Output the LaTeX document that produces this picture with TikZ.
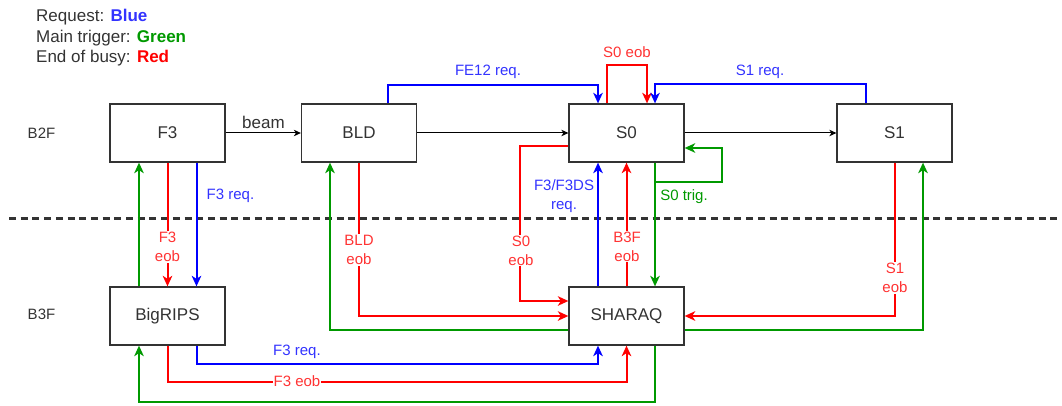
\documentclass[tikz,border=0pt]{standalone}
\usepackage{fontspec}
\setmainfont{Liberation Sans}
\usetikzlibrary{arrows.meta}
\definecolor{lblue}{HTML}{0000FF}
\definecolor{tblue}{HTML}{3333FF}
\definecolor{lred}{HTML}{FF0000}
\definecolor{tred}{HTML}{FF3333}
\definecolor{lgreen}{HTML}{009900}
\definecolor{dgray}{HTML}{333333}
\begin{document}
\begin{tikzpicture}[x=1pt,y=-1pt,
  box/.style={draw=dgray, line width=1.3pt, fill=white, minimum width=115pt, minimum height=58pt, inner sep=0pt, text=dgray, font=\fontsize{17}{20}\selectfont},
  conn/.style={line width=2pt, -{Stealth[length=10.5pt,width=9.5pt,inset=3pt]}},
  bconn/.style={conn, draw=lblue},
  rconn/.style={conn, draw=lred},
  gconn/.style={conn, draw=lgreen},
  blk/.style={line width=1pt, draw=black, -{Stealth[length=7pt,width=6.5pt,inset=2pt]}},
  lbl/.style={font=\fontsize{15}{19}\selectfont, align=center, inner sep=1pt},
  blbl/.style={lbl, text=tblue},
  rlbl/.style={lbl, text=tred, fill=white},
  glbl/.style={lbl, text=lgreen},
  legend/.style={anchor=base west, inner sep=0pt, text=dgray, font=\fontsize{17}{20}\selectfont},
  floor/.style={text=dgray, font=\fontsize{15}{18}\selectfont, inner sep=0pt}
]
\useasboundingbox (0,0) rectangle (1062,406);

% legend
\node[legend] (lg1) at (36,22) {Request: \textcolor{tblue}{\textbf{Blue}}};
\node[legend] (lg2) at (36,42.3) {Main trigger: \textcolor{lgreen}{\textbf{Green}}};
\node[legend] (lg3) at (36,62.7) {End of busy: \textcolor{lred}{\textbf{Red}}};

% floor separator
\coordinate (dl) at (9,218.5);
\coordinate (dr) at (1062,218.5);
\draw[dgray, line width=2.3pt, dash pattern=on 7pt off 4.7pt] (dl) -- (dr);

\node[floor] (b2f) at (41.5,133.5) {B2F};
\node[floor] (b3f) at (41.5,314.5) {B3F};

% boxes
\node[box] (F3) at (167.5,133) {F3};
\node[box] (BLD) at (359,133) {BLD};
\node[box] (S0) at (626.5,133) {S0};
\node[box] (S1) at (894.5,133) {S1};
\node[box] (BigRIPS) at (167.5,316) {BigRIPS};
\node[box] (SHARAQ) at (626.5,316) {SHARAQ};

% beam line
\draw[blk] (F3.east) -- (BLD.west);
\draw[blk] (BLD.east) -- (S0.west);
\draw[blk] (S0.east) -- (S1.west);
\node[lbl, text=dgray, font=\fontsize{17}{20}\selectfont] (beam) at (263.5,122.5) {beam};

% top requests
\draw[bconn] ([xshift=29pt]BLD.north) -- ++(0,-18) -| ([xshift=-28.5pt]S0.north);
\draw[rconn] ([xshift=-19.5pt]S0.north) -- ++(0,-38) -| ([xshift=20.5pt]S0.north);
\draw[bconn] ([xshift=-28.5pt]S1.north) -- ++(0,-19) -| ([xshift=28.5pt]S0.north);

% S0 trig
\draw[gconn] ([xshift=28.5pt]S0.south) -- ([xshift=28.5pt]SHARAQ.north);
\draw[gconn] ([xshift=28.5pt]S0.south) -- ++(0,19) -- ++(67,0) |- ([yshift=-15pt]S0.east);

% S0 <-> SHARAQ
\draw[bconn] ([xshift=-28.5pt]SHARAQ.north) -- ([xshift=-28.5pt]S0.south);
\draw[rconn] (SHARAQ.north) -- (S0.south);
\draw[rconn] ([yshift=-13.5pt]S0.west) -- ++(-48,0) |- ([yshift=15pt]SHARAQ.west);

% BLD <-> SHARAQ
\draw[rconn] (BLD.south) |- (SHARAQ.west);
\draw[gconn] ([yshift=-14pt]SHARAQ.west) -| ([xshift=-29pt]BLD.south);

% F3 <-> BigRIPS
\draw[bconn] ([xshift=29pt]F3.south) -- ([xshift=29pt]BigRIPS.north);
\draw[rconn] (F3.south) -- (BigRIPS.north);
\draw[gconn] ([xshift=-28.5pt]BigRIPS.north) -- ([xshift=-28.5pt]F3.south);

% BigRIPS <-> SHARAQ
\draw[bconn] ([xshift=29pt]BigRIPS.south) -- ++(0,18) -| ([xshift=-28.5pt]SHARAQ.south);
\draw[rconn] (BigRIPS.south) -- ++(0,36) -| (SHARAQ.south);
\draw[gconn] ([xshift=28.5pt]SHARAQ.south) -- ++(0,56) -| ([xshift=-28.5pt]BigRIPS.south);

% S1 <-> SHARAQ
\draw[rconn] (S1.south) |- (SHARAQ.east);
\draw[gconn] ([yshift=-14pt]SHARAQ.east) -| ([xshift=28.5pt]S1.south);

% labels
\node[blbl] (lfe12) at (488,71.5) {FE12 req.};
\node[rlbl, fill=none] (ls0eobt) at (627,52.5) {S0 eob};
\node[blbl] (ls1req) at (760,72) {S1 req.};
\node[glbl] (ls0trig) at (684,197) {S0 trig.};
\node[blbl] (lf3ds) at (564,196) {F3/F3DS\\req.};
\node[rlbl] (lb3f) at (627,246.5) {B3F\\eob};
\node[rlbl] (ls0eob) at (521,250.5) {S0\\eob};
\node[rlbl] (lblde) at (359,250) {BLD\\eob};
\node[blbl] (lf3reqt) at (230.5,196) {F3 req.};
\node[rlbl] (lf3eobt) at (167.5,247) {F3\\eob};
\node[rlbl] (ls1eob) at (895,278) {S1\\eob};
\node[blbl] (lf3reqb) at (297,352) {F3 req.};
\node[rlbl] (lf3eobb) at (297,381) {F3 eob};
\end{tikzpicture}
\end{document}
